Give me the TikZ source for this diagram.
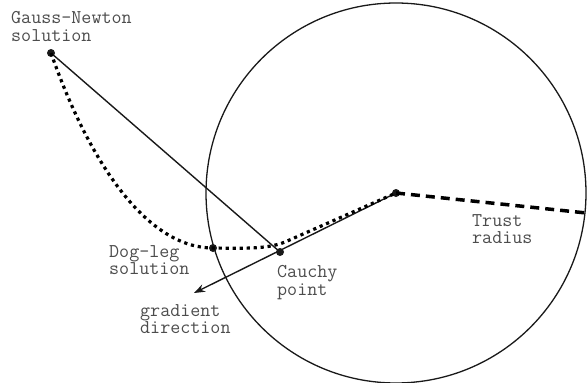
\documentclass[tikz,border=0pt]{standalone}
\usepackage{fontspec}
\usepackage{tikz}
\usetikzlibrary{arrows.meta,calc}

\begin{document}
\begin{tikzpicture}[x=1pt, y=-1pt,
    dot/.style={circle, fill=black!90, inner sep=0pt, minimum size=8pt},
    lbl/.style={anchor=north west, inner sep=0pt, align=left, text=black!70,
                font=\fontsize{19.5}{17.8}\selectfont\ttfamily},
    solidline/.style={line width=1.4pt, draw=black!90},
    dotline/.style={line width=3.2pt, draw=black, dash pattern=on 3.2pt off 3.8pt},
    dashline/.style={line width=3.5pt, draw=black, dash pattern=on 9pt off 6pt},
    arrow/.style={solidline, -{Stealth[length=11pt,width=8pt]}}
]
  \useasboundingbox (0,0) rectangle (587,383);

  % Points
  \node[dot] (ctr) at (396,193) {};
  \node[dot] (gn) at (51,53) {};
  \node[dot] (dogleg) at (213,248) {};
  \node[dot] (cauchy) at (280,252) {};
  \coordinate (grad) at (194,293);

  % Trust region
  \node[draw=black!90, line width=1.3pt, circle, inner sep=0pt, minimum size=380pt] (trust) at (ctr) {};
  \draw[dashline] (ctr.center) -- (trust.-6);

  % Steps
  \draw[solidline] (gn.center) -- (cauchy.center);
  \draw[arrow] (ctr.center) -- (grad);
  \draw[dotline] (gn.center) .. controls (92,170) and (150,248) .. (dogleg.center)
    .. controls (245,248.5) and (268,249) .. (285,242) -- (ctr.center);

  % Labels
  \node[lbl] (gnlabel) at (11,11) {Gauss-Newton\\solution};
  \node[lbl] (doglabel) at (109,245) {Dog-leg\\solution};
  \node[lbl] (cauchylabel) at (277,265) {Cauchy\\point};
  \node[lbl] (gradlabel) at (140,304) {gradient\\direction};
  \node[lbl] (trustlabel) at (472,214) {Trust\\radius};

\end{tikzpicture}
\end{document}
